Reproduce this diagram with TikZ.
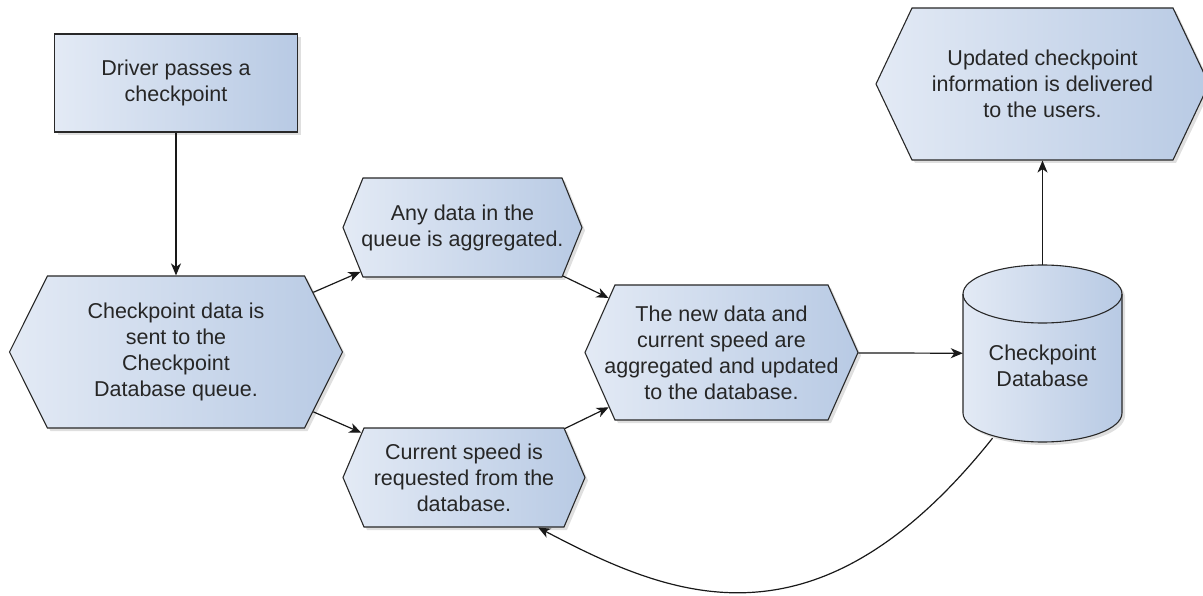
\documentclass[tikz,border=0pt]{standalone}
\usepackage{fontspec}
\setmainfont{Liberation Sans}
\usetikzlibrary{shapes.symbols,arrows.meta,shadows}

\definecolor{boxL}{RGB}{227,234,245}
\definecolor{boxR}{RGB}{184,202,228}
\definecolor{edge}{RGB}{40,40,40}

\begin{document}
\begin{tikzpicture}[x=1pt,y=-1pt,
  txt/.style={font=\fontsize{21.5}{26}\selectfont, text=black!85, align=center, inner sep=0pt},
  outline/.style={draw=edge, line width=1.1pt},
  shaded/.style={outline, left color=boxL, right color=boxR,
    drop shadow={shadow xshift=3pt, shadow yshift=-3pt, opacity=0.25}},
  stepbox/.style={shaded, rectangle, txt},
  hexa/.style={shaded, shape=signal, signal to=west and east, inner sep=0pt,
    label={[txt]center:#1}},
  flow/.style={draw=black!90, line width=1.2pt,
    -{Stealth[length=12pt,width=10pt,inset=3.5pt]}}
]
\useasboundingbox (0,0) rectangle (1203,596);

% process steps
\node[stepbox, minimum width=243, minimum height=98] (drv) at (176,83)
  {Driver passes a\\checkpoint};
\node[hexa={Checkpoint data is\\sent to the\\Checkpoint\\Database queue.},
  minimum width=333, minimum height=152, signal pointer angle=126.9] (send) at (176,352) {};
\node[hexa={Any data in the\\queue is aggregated.},
  minimum width=239, minimum height=99, signal pointer angle=136] (agg) at (462.5,227.5) {};
\node[hexa={Current speed is\\requested from the\\database.},
  minimum width=242, minimum height=99, signal pointer angle=134] (req) at (464,477.5) {};
\node[hexa={The new data and\\current speed are\\aggregated and updated\\to the database.},
  minimum width=273, minimum height=135, signal pointer angle=132.1] (upd) at (721.5,352.5) {};
\node[hexa={Updated checkpoint\\information is delivered\\to the users.},
  minimum width=333, minimum height=152, signal pointer angle=129.3] (out) at (1042.5,84) {};

% data store: cylinder body, then the front rim of its top end
\path[shaded] (963,294) -- (963,413)
  arc[start angle=180, end angle=0, x radius=79.5, y radius=29]
  -- (1122,294)
  arc[start angle=0, end angle=-180, x radius=79.5, y radius=29] -- cycle;
\draw[outline] (963,294) arc[start angle=180, end angle=0, x radius=79.5, y radius=29];
\node[txt, minimum width=159, minimum height=177,
  label={[txt, yshift=-12pt]center:Checkpoint\\Database}] (db) at (1042.5,353.5) {};

% flow
\draw[flow] (drv) -- (send);
\draw[flow] (send) -- (agg);
\draw[flow] (send) -- (req);
\draw[flow] (agg) -- (upd);
\draw[flow] (req) -- (upd);
\draw[flow] (upd) -- (db);
\draw[flow] (db) -- (out);
\draw[flow] ([xshift=-50pt, yshift=4pt]db.south)
  .. controls +(-176,221) and +(133,70) .. (req.326);
\end{tikzpicture}
\end{document}
